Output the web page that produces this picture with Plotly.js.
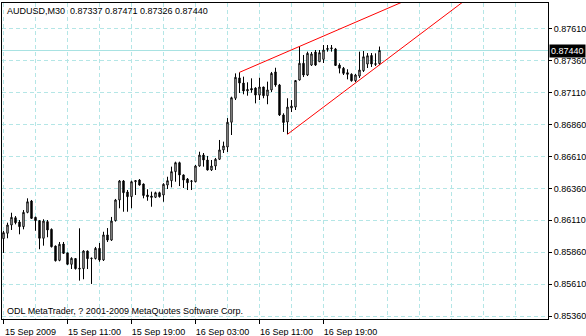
<!DOCTYPE html>
<html>
<head>
<meta charset="utf-8">
<script src="https://cdn.plot.ly/plotly-3.0.1.min.js"></script>
<style>
html,body{margin:0;padding:0;background:#fff;}
#chart{width:586px;height:336px;}
</style>
</head>
<body>
<div id="chart"></div>
<script>
// ---- data (AUDUSD, M30) ----
const symbol = 'AUDUSD';
const period = 'M30';

const open = [
0.85966,0.86008,0.86073,0.86130,0.86096,0.86060,0.86172,0.86261,0.86133,0.86107,
0.85969,0.86099,0.86039,0.85908,0.85796,0.85924,0.85854,0.85765,0.85810,0.85734,
0.85731,0.85869,0.85809,0.85810,0.85890,0.85799,0.85995,0.85955,0.86107,0.86269,
0.86418,0.86331,0.86295,0.86412,0.86425,0.86394,0.86308,0.86300,0.86290,0.86326,
0.86308,0.86386,0.86420,0.86491,0.86561,0.86465,0.86433,0.86414,0.86412,0.86535,
0.86621,0.86582,0.86504,0.86535,0.86588,0.86661,0.86684,0.86878,0.87066,0.87225,
0.87185,0.87123,0.87142,0.87146,0.87091,0.87154,0.87086,0.87131,0.87272,0.87170,
0.86935,0.86880,0.86990,0.86997,0.87209,0.87340,0.87248,0.87326,0.87428,0.87352,
0.87371,0.87448,0.87454,0.87452,0.87326,0.87301,0.87266,0.87254,0.87203,0.87240,
0.87282,0.87334,0.87401,0.87337,0.87337];

const high = [
0.86026,0.86091,0.86169,0.86143,0.86112,0.86190,0.86282,0.86269,0.86138,0.86112,
0.86118,0.86112,0.86046,0.85912,0.85940,0.85940,0.85857,0.85820,0.85814,0.86047,
0.85875,0.85873,0.85818,0.85901,0.85932,0.86020,0.86049,0.86136,0.86277,0.86425,
0.86425,0.86347,0.86420,0.86425,0.86433,0.86398,0.86353,0.86334,0.86334,0.86334,
0.86400,0.86451,0.86530,0.86569,0.86569,0.86469,0.86441,0.86425,0.86543,0.86647,
0.86637,0.86614,0.86582,0.86598,0.86739,0.86726,0.86911,0.87078,0.87261,0.87269,
0.87235,0.87191,0.87222,0.87152,0.87227,0.87156,0.87196,0.87272,0.87305,0.87178,
0.86948,0.87066,0.87052,0.87209,0.87472,0.87405,0.87431,0.87428,0.87444,0.87444,
0.87483,0.87483,0.87483,0.87460,0.87340,0.87311,0.87293,0.87261,0.87256,0.87431,
0.87436,0.87420,0.87420,0.87418,0.87471];

const low = [
0.85854,0.85969,0.86034,0.86078,0.86000,0.86039,0.86165,0.86120,0.86028,0.85883,
0.85911,0.85977,0.85897,0.85787,0.85789,0.85846,0.85760,0.85728,0.85724,0.85637,
0.85648,0.85728,0.85611,0.85803,0.85785,0.85791,0.85940,0.85948,0.86100,0.86204,
0.86177,0.86177,0.86204,0.86308,0.86382,0.86282,0.86263,0.86216,0.86284,0.86288,
0.86255,0.86355,0.86368,0.86412,0.86378,0.86363,0.86347,0.86347,0.86407,0.86530,
0.86530,0.86500,0.86496,0.86504,0.86582,0.86637,0.86645,0.86778,0.87052,0.87107,
0.87097,0.87086,0.87109,0.87026,0.87052,0.87066,0.87019,0.87115,0.87156,0.86927,
0.86802,0.86784,0.86958,0.86974,0.87205,0.87232,0.87240,0.87319,0.87319,0.87350,
0.87342,0.87431,0.87431,0.87319,0.87261,0.87248,0.87214,0.87196,0.87193,0.87225,
0.87272,0.87303,0.87311,0.87319,0.87326];

const close = [
0.86013,0.86073,0.86133,0.86091,0.86060,0.86172,0.86255,0.86125,0.86107,0.85969,
0.86104,0.86034,0.85903,0.85793,0.85922,0.85851,0.85765,0.85812,0.85731,0.85729,
0.85869,0.85809,0.85812,0.85890,0.85799,0.85995,0.85955,0.86104,0.86269,0.86418,
0.86326,0.86295,0.86412,0.86420,0.86386,0.86304,0.86295,0.86290,0.86326,0.86295,
0.86392,0.86420,0.86491,0.86561,0.86465,0.86425,0.86404,0.86418,0.86535,0.86621,
0.86582,0.86504,0.86535,0.86588,0.86661,0.86692,0.86878,0.87070,0.87230,0.87185,
0.87123,0.87135,0.87131,0.87091,0.87154,0.87086,0.87131,0.87261,0.87170,0.86935,
0.86876,0.86997,0.87005,0.87205,0.87340,0.87248,0.87418,0.87413,0.87326,0.87423,
0.87444,0.87456,0.87460,0.87323,0.87301,0.87261,0.87254,0.87203,0.87248,0.87287,
0.87391,0.87399,0.87334,0.87332,0.87440];

// time axis labels (bar index of each label)
const tickBars   = [0, 16, 32, 48, 64, 80];
const tickLabels = ['15 Sep 2009','15 Sep 11:00','15 Sep 19:00','16 Sep 03:00','16 Sep 11:00','16 Sep 19:00'];

// trend lines (anchor bars and prices)
const upperLineBars   = [59, 74];
const upperLinePrices = [0.87269, 0.87472];
const lowerLineBars   = [71, 93];
const lowerLinePrices = [0.86784, 0.87304];

const copyright = 'ODL MetaTrader, ? 2001-2009 MetaQuotes Software Corp.';

// ---- build ----
const barIdx = close.map((_, i) => i);
const last = close.length - 1;
const gridColor = '#b4e6e6';
const FONT = 'Liberation Sans, Arial, sans-serif';

function ray(bars, prices, toBar) {
  const slope = (prices[1] - prices[0]) / (bars[1] - bars[0]);
  return { x: [bars[0], toBar], y: [prices[0], prices[0] + slope * (toBar - bars[0])] };
}
const up = ray(upperLineBars, upperLinePrices, 150);
const lo = ray(lowerLineBars, lowerLinePrices, 150);

const minorVals = [];
for (let b = 0; b <= 136; b += 8) minorVals.push(b);

const traces = [
  {
    type: 'candlestick',
    x: barIdx, open: open, high: high, low: low, close: close,
    increasing: { line: { color: '#000000', width: 1 }, fillcolor: '#ffffff' },
    decreasing: { line: { color: '#000000', width: 1 }, fillcolor: '#000000' },
    whiskerwidth: 0,
    showlegend: false,
    hoverinfo: 'skip'
  },
  { type: 'scatter', mode: 'lines', x: up.x, y: up.y, line: { color: '#ff0000', width: 1 }, showlegend: false, hoverinfo: 'skip' },
  { type: 'scatter', mode: 'lines', x: lo.x, y: lo.y, line: { color: '#ff0000', width: 1 }, showlegend: false, hoverinfo: 'skip' }
];

const fmt = v => v.toFixed(5);
const titleText = symbol + ',' + period + '\u00a0\u00a0' + fmt(open[last]) + ' ' + fmt(high[last]) + ' ' + fmt(low[last]) + ' ' + fmt(close[last]);

const layout = {
  width: 586, height: 336,
  margin: { l: 2, r: 38, t: 3, b: 17, pad: 0 },
  paper_bgcolor: '#ffffff', plot_bgcolor: '#ffffff',
  font: { family: FONT, size: 9, color: '#000000' },
  showlegend: false,
  boxgap: 0.5,
  hovermode: false,
  xaxis: {
    range: [-0.375, 136.125],
    tickmode: 'array', tickvals: tickBars, ticktext: tickLabels,
    ticks: 'outside', ticklen: 4, tickcolor: '#000000', tickwidth: 1,
    ticklabelshift: 27,
    tickfont: { family: FONT, size: 9, color: '#000000' },
    showgrid: true, gridcolor: gridColor, griddash: '4px,3px', gridwidth: 1,
    minor: { tickmode: 'array', tickvals: minorVals, showgrid: true, gridcolor: gridColor, griddash: '4px,3px', gridwidth: 1, ticks: '' },
    showline: true, mirror: true, linecolor: '#000000', linewidth: 1,
    zeroline: false,
    rangeslider: { visible: false },
    fixedrange: true
  },
  yaxis: {
    side: 'right',
    range: [0.853365, 0.878122],
    tickmode: 'linear', tick0: 0.8536, dtick: 0.0025,
    tickformat: '.5f',
    ticks: 'outside', ticklen: 3, tickcolor: '#000000', tickwidth: 1,
    tickfont: { family: FONT, size: 9, color: '#000000' },
    showgrid: true, gridcolor: gridColor, griddash: '4px,3px', gridwidth: 1,
    showline: true, mirror: true, linecolor: '#000000', linewidth: 1,
    zeroline: false,
    fixedrange: true
  },
  shapes: [
    { type: 'line', xref: 'paper', x0: 0, x1: 1, yref: 'y', y0: close[last], y1: close[last],
      line: { color: '#a8e2e2', width: 1 }, layer: 'below' }
  ],
  annotations: [
    { text: titleText, xref: 'paper', yref: 'paper', x: 0, y: 1, xanchor: 'left', yanchor: 'top',
      xshift: 3, yshift: -1, showarrow: false, font: { family: FONT, size: 9, color: '#000000' } },
    { text: copyright, xref: 'paper', yref: 'paper', x: 0, y: 0, xanchor: 'left', yanchor: 'bottom',
      xshift: 3, yshift: 1, showarrow: false, font: { family: FONT, size: 9, color: '#000000' } },
    { text: fmt(close[last]), xref: 'paper', yref: 'y', x: 1, y: close[last], xanchor: 'left', yanchor: 'middle',
      xshift: 1, showarrow: false, bgcolor: '#000000', borderpad: 1,
      font: { family: FONT, size: 9, color: '#ffffff' } }
  ]
};

Plotly.newPlot('chart', traces, layout, { staticPlot: true, displayModeBar: false });
</script>
</body>
</html>
